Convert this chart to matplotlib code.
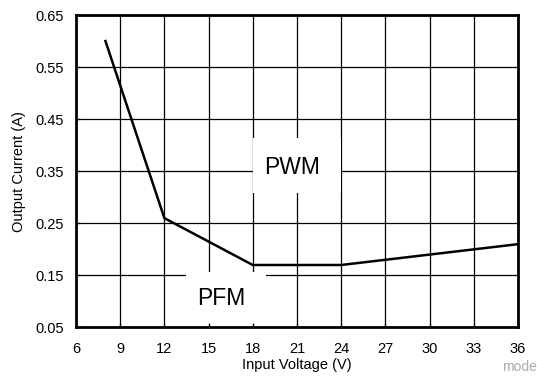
import matplotlib
matplotlib.use("Agg")
import matplotlib.pyplot as plt
from matplotlib.patches import Rectangle

plt.rcParams['font.family'] = ['Liberation Sans', 'DejaVu Sans']

# Mode boundary curve
vin = [8, 12, 18, 24, 36]
iout = [0.60, 0.26, 0.17, 0.17, 0.21]

x_ticks = [6, 9, 12, 15, 18, 21, 24, 27, 30, 33, 36]
y_ticks = [0.05, 0.15, 0.25, 0.35, 0.45, 0.55, 0.65]
y_labels = ["0.05", "0.15", "0.25", "0.35", "0.45", "0.55", "0.65"]

fig = plt.figure(figsize=(5.37, 3.79), dpi=100)
ax = fig.add_axes([0.1415, 0.1359, 0.823, 0.8245])

# grid drawn by hand so the label boxes can cover it but not the ticks
for x in x_ticks:
    ax.axvline(x, color='black', lw=0.9, zorder=0.5)
for y in y_ticks:
    ax.axhline(y, color='black', lw=0.9, zorder=0.5)

ax.plot(vin, iout, color='black', lw=1.8, zorder=2)

# white boxes behind mode labels
ax.add_patch(Rectangle((18.0, 0.308), 6.0, 0.106, facecolor='white', edgecolor='none', zorder=1))
ax.add_patch(Rectangle((13.47, 0.054), 5.43, 0.102, facecolor='white', edgecolor='none', zorder=1))
ax.text(20.64, 0.358, "PWM", fontsize=16.5, ha='center', va='center', zorder=3)
ax.text(15.89, 0.106, "PFM", fontsize=16.5, ha='center', va='center', zorder=3)

ax.set_xlim(6, 36)
ax.set_ylim(0.05, 0.65)
ax.set_xticks(x_ticks)
ax.set_yticks(y_ticks)
ax.set_yticklabels(y_labels)
ax.tick_params(direction='in', length=3, width=0.9, labelsize=10.5)
ax.tick_params(axis='x', pad=10.5)
ax.tick_params(axis='y', pad=8.5)

for s in ax.spines.values():
    s.set_linewidth(2)

ax.set_xlabel("Input Voltage (V)", fontsize=10.5, labelpad=1.5)
ax.set_ylabel("Output Current (A)", fontsize=10.5, labelpad=7)

fig.text(0.968, 0.032, "mode", fontsize=10, color='#aaaaaa', ha='center', va='center')

plt.savefig("out.png", dpi=100)
